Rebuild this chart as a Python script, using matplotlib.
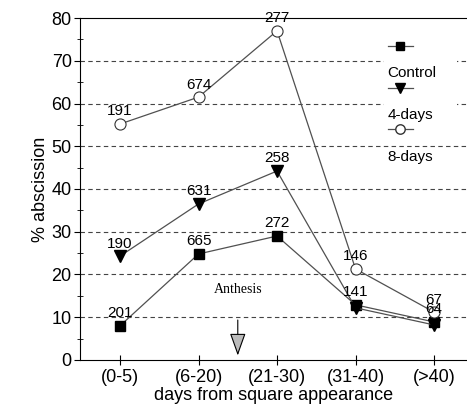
import matplotlib
matplotlib.use("Agg")
import matplotlib.pyplot as plt
from matplotlib.lines import Line2D

plt.rcParams["font.family"] = ["Liberation Sans", "DejaVu Sans"]

categories = ["(0-5)", "(6-20)", "(21-30)", "(31-40)", "(>40)"]
control = [8.0, 24.8, 29.0, 12.9, 8.9]
four_days = [24.3, 36.5, 44.2, 12.2, 8.2]
eight_days = [55.2, 61.5, 77.0, 21.3, 11.2]

control_n = ["201", "665", "272", "141", "64"]
four_n = ["190", "631", "258", "", ""]
eight_n = ["191", "674", "277", "146", "67"]

x = list(range(len(categories)))

fig = plt.figure(figsize=(4.67, 4.18), dpi=100)
ax = fig.add_axes([0.1713, 0.1388, 0.8287, 0.8181])

line_col = "#505050"
series = [
    (control, control_n, dict(marker="s", markersize=7.5, markerfacecolor="black", markeredgecolor="black")),
    (four_days, four_n, dict(marker="v", markersize=8.5, markerfacecolor="black", markeredgecolor="black")),
    (eight_days, eight_n, dict(marker="o", markersize=8, markerfacecolor="white", markeredgecolor="#333333",
                               markeredgewidth=0.8)),
]
for vals, ns, st in series:
    ax.plot(x, vals, color=line_col, linewidth=0.9, zorder=3, **st)
    for xi, v, n in zip(x, vals, ns):
        if n:
            ax.annotate(n, (xi, v), xytext=(0, 4), textcoords="offset points",
                        ha="center", va="bottom", fontsize=11, zorder=4)

ax.set_xlim(-0.51, 4.42)
ax.set_ylim(0, 80)
ax.set_xticks(x)
ax.set_xticklabels(categories, fontsize=13)
ax.set_yticks(range(0, 81, 10))
ax.set_yticks(range(5, 80, 10), minor=True)
ax.tick_params(axis="y", which="major", direction="out", length=4, labelsize=13, pad=2)
ax.tick_params(axis="y", which="minor", direction="inout", length=4)
ax.tick_params(axis="x", direction="inout", length=7, pad=3)

for yv in range(10, 80, 10):
    ax.axhline(yv, color="#444444", linestyle=(0, (4, 3)), linewidth=0.8, zorder=1)

ax.spines["right"].set_visible(False)
ax.set_xlabel("days from square appearance", fontsize=13, labelpad=1)
ax.set_ylabel("% abscission", fontsize=13, labelpad=2)

# anthesis marker
ax.annotate("", xy=(1.5, 0.4), xytext=(1.5, 10),
            arrowprops=dict(arrowstyle="-|>,head_length=1.4,head_width=0.5",
                            facecolor="#bbbbbb", edgecolor="black", linewidth=0.8))
ax.text(1.5, 16.4, "Anthesis", ha="center", va="center", fontsize=10,
        family=["Liberation Serif", "DejaVu Serif"])

# legend: handle above each label
handles = [
    Line2D([0], [0], color=line_col, linewidth=0.9, **series[0][2]),
    Line2D([0], [0], color=line_col, linewidth=0.9, **series[1][2]),
    Line2D([0], [0], color=line_col, linewidth=0.9, **series[2][2]),
]
names = ["Control", "4-days", "8-days"]
ax.add_patch(plt.Rectangle((0.785, 0.68), 0.19, 0.27, transform=ax.transAxes,
                           facecolor="white", edgecolor="none", zorder=2))
for i, (h, nm) in enumerate(zip(handles, names)):
    yh = 0.918 - i * 0.122
    ax.plot([0.795, 0.86], [yh, yh], transform=ax.transAxes, color=line_col,
            linewidth=0.9, zorder=3)
    ax.plot([0.8275], [yh], transform=ax.transAxes, linestyle="none", zorder=3,
            marker=h.get_marker(), markersize=h.get_markersize() * 0.85,
            markerfacecolor=h.get_markerfacecolor(), markeredgecolor=h.get_markeredgecolor())
    ax.text(0.795, yh - 0.08, nm, transform=ax.transAxes, fontsize=11,
            ha="left", va="center", zorder=3)

fig.savefig("out.png", dpi=100)
